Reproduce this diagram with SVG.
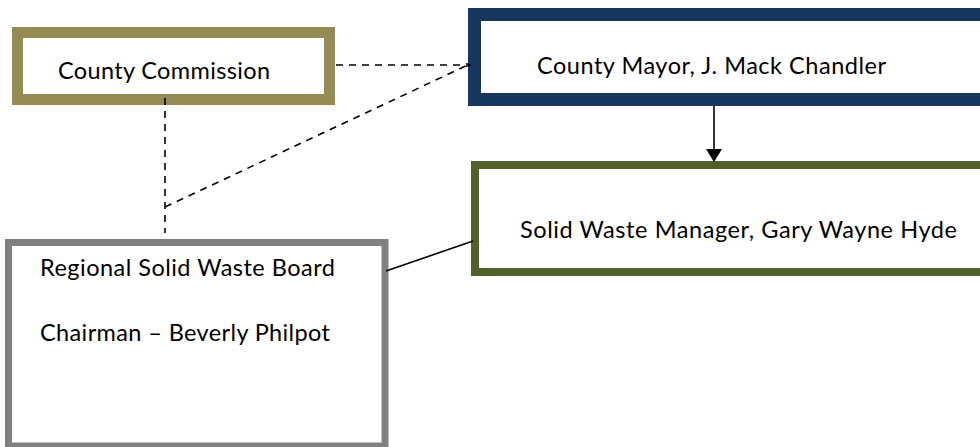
<svg xmlns="http://www.w3.org/2000/svg" width="980" height="447" viewBox="0 0 980 447">
<defs>
<style>
.t{font-family:Lato,"Open Sans","Liberation Sans",sans-serif;font-size:23.5px;fill:#000}
.box{fill:#fff}
.dash{stroke:#000;stroke-width:1.6;stroke-dasharray:7 6;fill:none}
.solid{stroke:#000;stroke-width:1.6;fill:none}
</style>
<marker id="sm" viewBox="0 0 10 10" refX="9" refY="5" markerWidth="5" markerHeight="5" orient="auto" markerUnits="userSpaceOnUse">
<path d="M0,1 L10,5 L0,9" fill="none" stroke="#000" stroke-width="2"/>
</marker>
</defs>
<rect width="980" height="447" fill="#fff"/>
<g id="county-commission">
<rect class="box" x="17.5" y="32.5" width="312" height="67" stroke="#948A54" stroke-width="11"/>
<text class="t" x="58" y="79" textLength="212">County Commission</text>
</g>
<g id="county-mayor">
<rect class="box" x="474.5" y="14.5" width="520" height="85" stroke="#17375E" stroke-width="13"/>
<text class="t" x="537" y="74" textLength="349">County Mayor, J. Mack Chandler</text>
</g>
<g id="solid-waste-manager">
<rect class="box" x="475" y="165" width="520" height="107" stroke="#4F6228" stroke-width="8"/>
<text class="t" x="520" y="238" textLength="437">Solid Waste Manager, Gary Wayne Hyde</text>
</g>
<g id="regional-board">
<rect class="box" x="8.5" y="242.5" width="376.5" height="203.5" stroke="#808080" stroke-width="7"/>
<text class="t" x="40" y="276" textLength="295">Regional Solid Waste Board</text>
<text class="t" x="40" y="341" textLength="290">Chairman – Beverly Philpot</text>
</g>
<g id="connectors">
<line class="dash" x1="336" y1="65" x2="470" y2="65" marker-end="url(#sm)"/>
<line class="dash" x1="165" y1="207" x2="470" y2="64"/>
<line class="dash" x1="165" y1="98" x2="165" y2="233"/>
<line class="solid" x1="386" y1="271" x2="473" y2="241"/>
<line class="solid" x1="714" y1="106" x2="714" y2="150"/>
<polygon points="706,149 722,149 714,162" fill="#000"/>
</g>
</svg>
